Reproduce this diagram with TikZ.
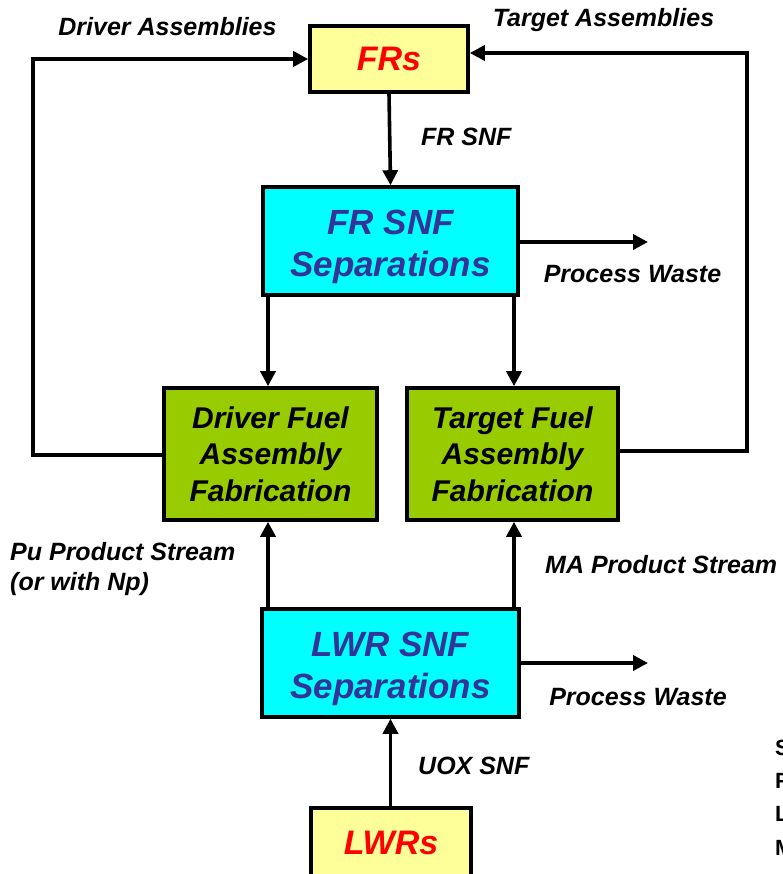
\documentclass[tikz,border=0pt]{standalone}
\usepackage{fontspec}
\setmainfont{Liberation Sans}
\usetikzlibrary{arrows.meta}
\definecolor{boxyellow}{HTML}{FFFF99}
\definecolor{boxcyan}{HTML}{00FFFF}
\definecolor{boxgreen}{HTML}{99CC00}
\definecolor{txtblue}{HTML}{333399}
\definecolor{txtred}{HTML}{FF0000}
\newcommand{\topstrut}{\rule{0pt}{37pt}}
\begin{document}
\begin{tikzpicture}[x=1pt,y=-1pt,
  box/.style={draw=black,line width=3.6pt,inner sep=0pt,align=center},
  reactor/.style={box,fill=boxyellow,text=txtred,font=\fontsize{34}{40}\selectfont\bfseries\itshape},
  sepbox/.style={box,fill=boxcyan,text=txtblue,font=\fontsize{35}{42}\selectfont\bfseries\itshape},
  fabbox/.style={box,fill=boxgreen,text=black,font=\fontsize{30}{36.5}\selectfont\bfseries\itshape},
  lbl/.style={inner sep=0pt,font=\fontsize{25}{31}\selectfont\bfseries\itshape,align=left},
  edgeltr/.style={inner sep=0pt,anchor=base west,font=\fontsize{22}{26}\selectfont\bfseries},
  arr/.style={line width=3.6pt,-{Triangle[length=15pt,width=15pt]}}]
\useasboundingbox (0,0) rectangle (782,874);
\clip (0,0) rectangle (782,874);
% boxes
\node[reactor,minimum width=158,minimum height=66] (frs) at (389,59) {FRs};
\node[sepbox,minimum width=255,minimum height=108] (fsep) at (390.5,241) {\topstrut FR SNF\\Separations};
\node[fabbox,minimum width=213,minimum height=132] (drv) at (270.5,454) {Driver Fuel\\Assembly\\Fabrication};
\node[fabbox,minimum width=211,minimum height=132] (tgt) at (512.5,454) {Target Fuel\\Assembly\\Fabrication};
\node[sepbox,minimum width=257,minimum height=108] (lsep) at (390.5,663) {\topstrut LWR SNF\\Separations};
\node[reactor,minimum width=160,minimum height=70] (lwrs) at (391,843) {LWRs};
% helper coordinates
\coordinate (xl) at (268,0);
\coordinate (xr) at (514,0);
\coordinate (dl) at (33,59);
\coordinate (tr) at (747,53);
\coordinate (pw1) at (648,242);
\coordinate (pw2) at (648,663);
\coordinate (dlb) at (33,455);
\coordinate (trb) at (747,451);
% connectors
\draw[arr] (frs.south) -- (fsep.north);
\draw[arr] (fsep.east |- pw1) -- (pw1);
\draw[arr] (fsep.south -| xl) -- (drv.north -| xl);
\draw[arr] (fsep.south -| xr) -- (tgt.north -| xr);
\draw[arr] (lsep.north -| xl) -- (drv.south -| xl);
\draw[arr] (lsep.north -| xr) -- (tgt.south -| xr);
\draw[arr] (lsep.east |- pw2) -- (pw2);
\draw[arr] (lwrs.north -| lsep.south) -- (lsep.south);
\draw[arr] (drv.west |- dlb) -- (dlb) -- (dl) -- (frs.west |- dl);
\draw[arr] (tgt.east |- trb) -- (trb) -- (tr) -- (frs.east |- tr);
% labels
\node[lbl,anchor=base] (l1) at (167.5,36) {Driver Assemblies};
\node[lbl,anchor=base] (l2) at (603.5,27) {Target Assemblies};
\node[lbl,anchor=base west] (l3) at (421,146) {FR SNF};
\node[lbl,anchor=base] (l4) at (632.5,282) {Process Waste};
\node[lbl,anchor=base] (l5) at (638,705) {Process Waste};
\node[lbl,anchor=base west] (l6) at (545,573) {MA Product Stream};
\node[lbl,anchor=base west] (l7) at (10,560) {Pu Product Stream};
\node[lbl,anchor=base west] (l8) at (10,590) {(or with Np)};
\node[lbl,anchor=base west] (l9) at (418,774) {UOX SNF};
% cut-off legend letters at right edge
\node[edgeltr] (s1) at (775,755) {S};
\node[edgeltr] (s2) at (775,788) {F};
\node[edgeltr] (s3) at (775,821) {L};
\node[edgeltr] (s4) at (775,855) {M};
\end{tikzpicture}
\end{document}
